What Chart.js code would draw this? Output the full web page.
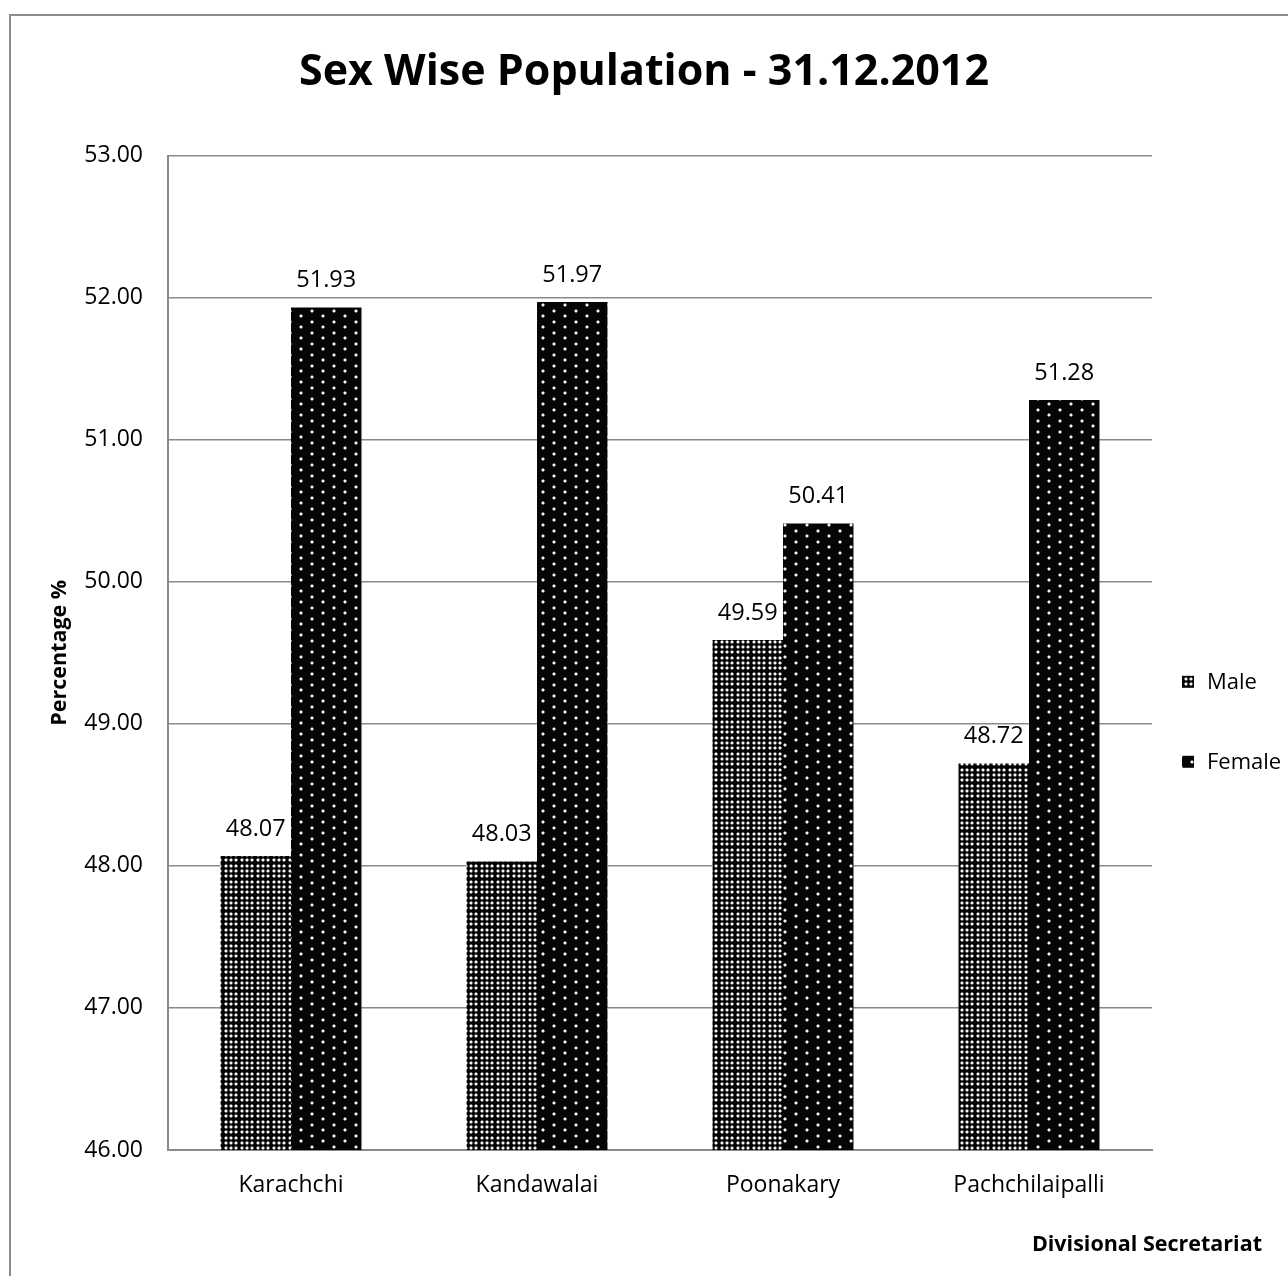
<!DOCTYPE html>
<html>
<head>
<meta charset="utf-8">
<title>Sex Wise Population - 31.12.2012</title>
<script src="https://cdn.jsdelivr.net/npm/chart.js@4"></script>
<style>
  html, body {
    margin: 0;
    padding: 0;
    background: #ffffff;
    overflow: hidden;
  }
  #wrap {
    position: relative;
    width: 1288px;
    height: 1276px;
    overflow: hidden;
  }
  #frame {
    position: absolute;
    left: 9px;
    top: 14px;
    width: 1400px;
    height: 1400px;
    border: 2px solid #8c8c8c;
  }
  #chartBox {
    position: absolute;
    left: 0;
    top: 0;
    width: 1288px;
    height: 1276px;
  }
</style>
</head>
<body>
<div id="wrap">
  <div id="frame"></div>
  <div id="chartBox"><canvas id="myChart"></canvas></div>
</div>
<script>
'use strict';

let categories = ['Karachchi', 'Kandawalai', 'Poonakary', 'Pachchilaipalli'];
let maleValues = [48.07, 48.03, 49.59, 48.72];
let femaleValues = [51.93, 51.97, 50.41, 51.28];
let seriesNames = ['Male', 'Female'];
let yTicks = [46, 47, 48, 49, 50, 51, 52, 53];

let fontName = '"Open Sans", "Noto Sans", sans-serif';

// small dotted fills like the office chart
function makeDotPattern(tileW, tileH, dots) {
  let tile = document.createElement('canvas');
  tile.width = tileW;
  tile.height = tileH;
  let c = tile.getContext('2d');
  c.fillStyle = '#050505';
  c.fillRect(0, 0, tileW, tileH);
  for (let i = 0; i < dots.length; i++) {
    let x = dots[i][0];
    let y = dots[i][1];
    c.fillStyle = '#6e6e6e';
    c.fillRect(x - 1, y, 4, 2);
    c.fillRect(x, y - 1, 2, 4);
    c.fillStyle = '#f4f4f4';
    c.fillRect(x, y, 2, 2);
  }
  return c.createPattern(tile, 'repeat');
}

let malePattern = makeDotPattern(16, 16, [
  [1, 1], [6, 1], [11, 1],
  [1, 6], [6, 6], [11, 6],
  [1, 11], [6, 11], [11, 11],
]);
let femalePattern = makeDotPattern(22, 11, [[3, 2], [14, 7]]);

const valueLabels = {
  id: 'valueLabels',
  afterDatasetsDraw(chart) {
    let ctx = chart.ctx;
    ctx.save();
    ctx.font = '23.5px ' + fontName;
    ctx.fillStyle = '#000000';
    ctx.textAlign = 'center';
    ctx.textBaseline = 'middle';
    chart.data.datasets.forEach((ds, i) => {
      let meta = chart.getDatasetMeta(i);
      meta.data.forEach((bar, j) => {
        ctx.fillText(ds.data[j].toFixed(2), bar.x, bar.y - 27);
      });
    });
    ctx.restore();
  }
};

const sideLegend = {
  id: 'sideLegend',
  afterDraw(chart) {
    let ctx = chart.ctx;
    let area = chart.chartArea;
    let mid = (area.top + area.bottom) / 2 + 69;
    ctx.save();
    ctx.font = '22px ' + fontName;
    ctx.textBaseline = 'middle';
    ctx.textAlign = 'left';
    chart.data.datasets.forEach((ds, i) => {
      let y = mid + (i === 0 ? -40 : 40);
      let x = area.right + 30;
      ctx.fillStyle = ds.backgroundColor;
      ctx.fillRect(x, y - 6, 12, 12);
      ctx.fillStyle = '#000000';
      ctx.fillText(ds.label, x + 25, y + 1);
    });
    // x axis title sits under the legend, right aligned
    ctx.font = 'bold 21.5px ' + fontName;
    ctx.textAlign = 'right';
    ctx.fillText('Divisional Secretariat', chart.width - 26, area.bottom + 95);
    ctx.restore();
  }
};

const chartData = {
  labels: categories,
  datasets: [
    {
      label: seriesNames[0],
      data: maleValues,
      backgroundColor: malePattern,
      borderWidth: 0,
    },
    {
      label: seriesNames[1],
      data: femaleValues,
      backgroundColor: femalePattern,
      borderWidth: 0,
    },
  ],
};

const config = {
  type: 'bar',
  data: chartData,
  plugins: [valueLabels, sideLegend],
  options: {
    responsive: true,
    maintainAspectRatio: false,
    animation: false,
    devicePixelRatio: 1,
    datasets: {
      bar: {
        barPercentage: 1,
        categoryPercentage: 0.573,
      },
    },
    plugins: {
      legend: { display: false },
      tooltip: { enabled: false },
      title: {
        display: true,
        text: 'Sex Wise Population - 31.12.2012',
        color: '#000000',
        font: { family: fontName, size: 43, weight: 'bold' },
        padding: { top: 47, bottom: 57 },
      },
    },
    scales: {
      x: {
        grid: { display: false, drawTicks: false },
        border: { display: true, color: '#8a8a8a', width: 2 },
        ticks: {
          color: '#000000',
          font: { family: fontName, size: 23 },
          padding: 22,
          maxRotation: 0,
        },
        afterFit(scale) {
          scale.height = 126;
        },
      },
      y: {
        min: yTicks[0],
        max: yTicks[yTicks.length - 1],
        afterBuildTicks(scale) {
          scale.ticks = yTicks.map((v) => ({ value: v }));
        },
        grid: { color: '#8a8a8a', lineWidth: 1.5, drawTicks: false },
        border: { display: true, color: '#8a8a8a', width: 2 },
        ticks: {
          color: '#000000',
          font: { family: fontName, size: 23 },
          padding: 25,
          callback: (v) => Number(v).toFixed(2),
        },
        title: {
          display: true,
          text: 'Percentage %',
          color: '#000000',
          font: { family: fontName, size: 21.5, weight: 'bold' },
          padding: { top: 47, bottom: 0 },
        },
        afterFit(scale) {
          scale.width = 168;
        },
      },
      // empty right-hand axis keeps room for the legend
      side: {
        position: 'right',
        grid: { display: false, drawTicks: false },
        border: { display: false },
        ticks: { display: false },
        afterFit(scale) {
          scale.width = 136;
        },
      },
    },
  },
};

let chartCanvas = document.getElementById('myChart').getContext('2d');
const myChart = new Chart(chartCanvas, config);
</script>
</body>
</html>
